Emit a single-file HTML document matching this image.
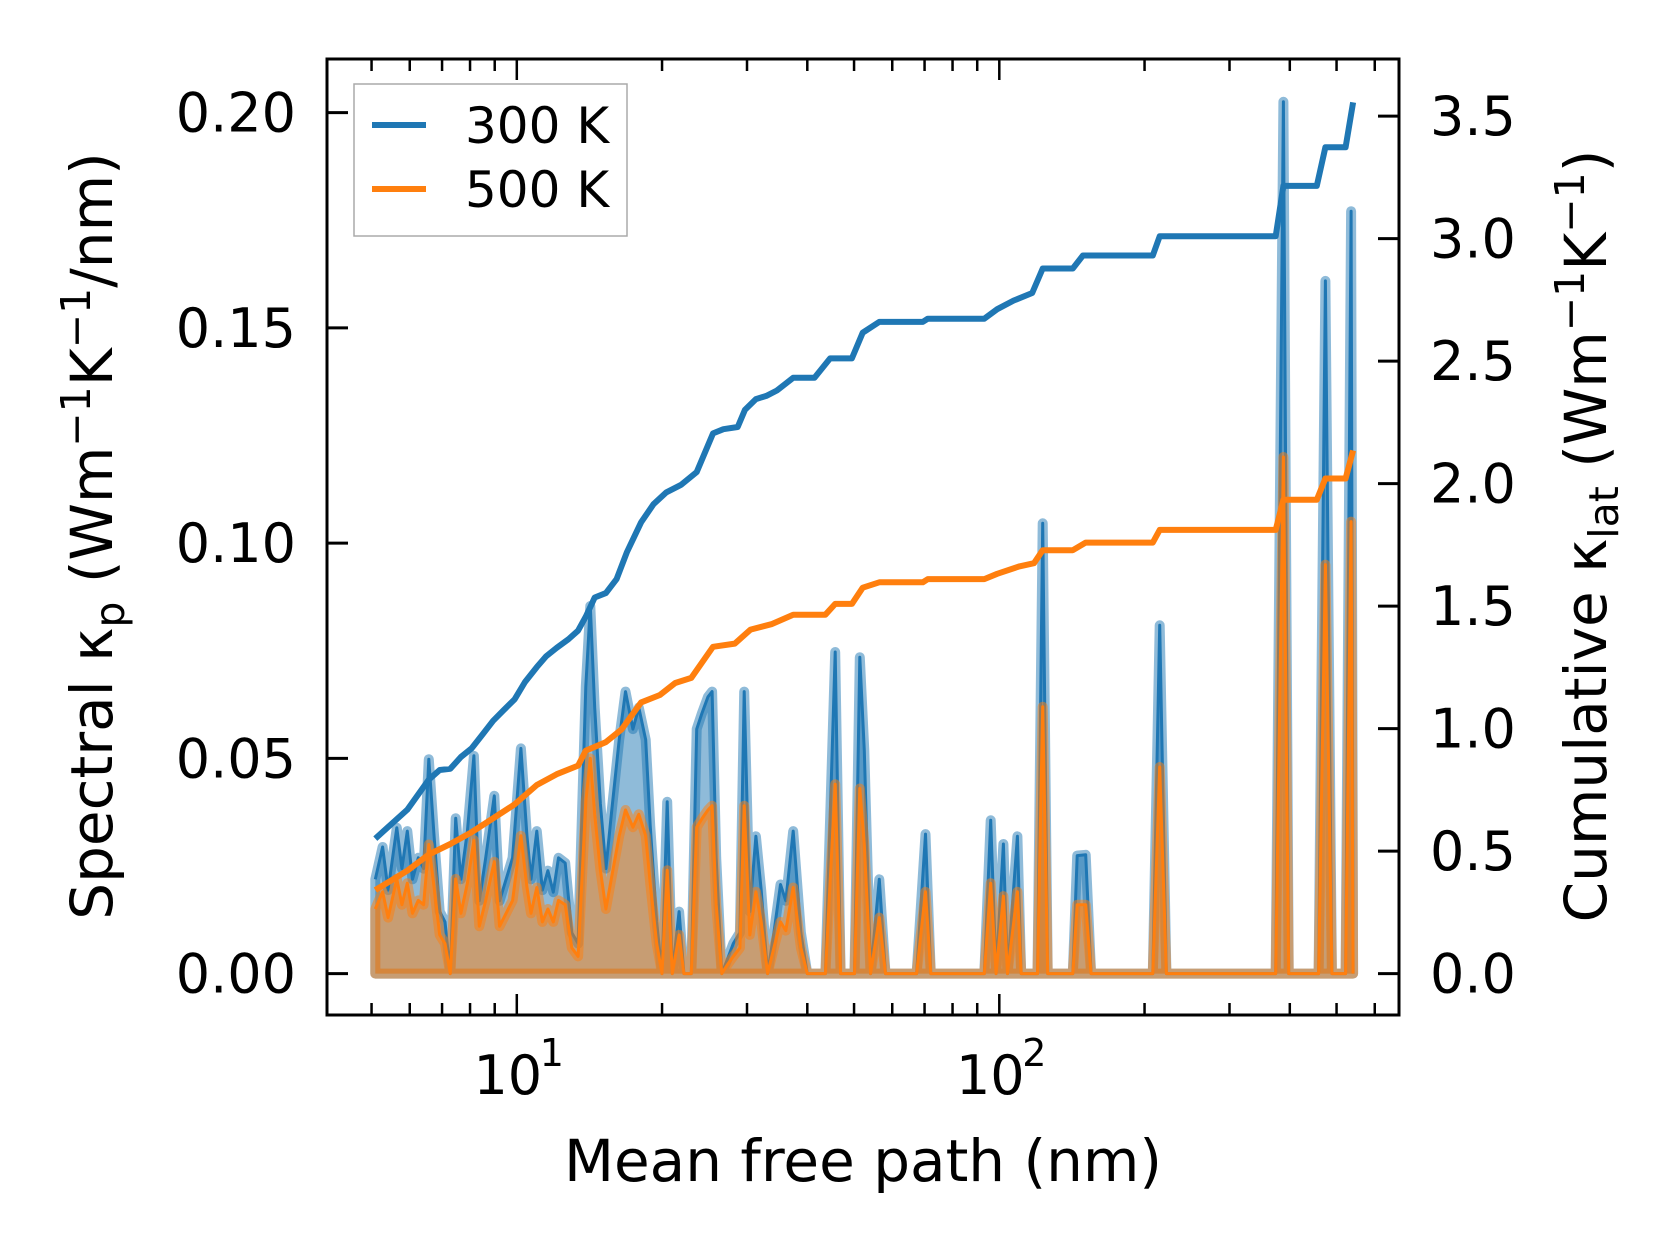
<!DOCTYPE html>
<html><head><meta charset="utf-8"><style>
html,body{margin:0;padding:0;background:#fff}
svg{display:block}
text{font-family:"DejaVu Sans","Liberation Sans",sans-serif;fill:#000}
</style></head><body>
<svg id="chart" width="1679" height="1254" viewBox="0 0 1679 1254" xmlns="http://www.w3.org/2000/svg"></svg>
<script>
const specX = [5.09,5.27,5.41,5.64,5.78,5.93,6.08,6.25,6.41,6.57,6.74,6.92,7.10,7.28,7.47,7.66,7.90,8.15,8.36,8.62,8.98,9.21,9.50,9.80,10.2,10.5,10.7,11.0,11.3,11.6,11.9,12.2,12.6,13.0,13.4,13.9,14.2,14.5,14.9,15.3,15.7,16.3,16.8,17.4,17.9,18.5,18.9,19.5,20.0,20.5,21.0,21.7,22.2,23.0,23.6,24.2,24.9,25.4,25.9,26.6,27.3,28.1,29.0,29.6,30.4,31.3,32.1,33.1,34.1,35.2,36.1,37.4,38.8,40.0,43.6,45.7,46.9,50.1,51.4,52.5,54.1,56.4,58.1,67.4,70.3,72.1,93.1,96.0,98.5,102,104,109,111,120,123,126,142,145,151,155,208,215,222,374,388,398,459,474,489,522,536,541];
const spec300 = [0.0219,0.0294,0.0194,0.0339,0.0244,0.0331,0.0219,0.0269,0.0244,0.0498,0.0319,0.0144,0.0120,0,0.0361,0.0219,0.0331,0.0506,0.0169,0.0269,0.0413,0.0169,0.0219,0.0269,0.0523,0.0319,0.0219,0.0331,0.0194,0.0239,0.0189,0.0269,0.0257,0.0095,0.0070,0.0667,0.0854,0.0618,0.0394,0.0244,0.0369,0.0543,0.0655,0.0568,0.0618,0.0543,0.0344,0.0120,0,0.0399,0,0.0144,0,0,0.0568,0.0605,0.0643,0.0655,0.0269,0,0.0032,0.0070,0.0095,0.0655,0.0144,0.0319,0.0194,0,0.0095,0.0207,0.0169,0.0331,0.0095,0,0,0.0747,0,0,0.0735,0.0518,0,0.0219,0,0,0.0324,0,0,0.0356,0,0.0301,0,0.0319,0,0,0.1046,0,0,0.0274,0.0276,0,0,0.0809,0,0,0.2025,0,0,0.1609,0,0,0.1771,0];
const spec500 = [0.0150,0.0190,0.0130,0.0220,0.0160,0.0210,0.0140,0.0170,0.0160,0.0300,0.0200,0.0090,0.0070,0,0.0220,0.0140,0.0210,0.0310,0.0110,0.0170,0.0260,0.0110,0.0140,0.0170,0.0320,0.0200,0.0140,0.0200,0.0120,0.0150,0.0120,0.0170,0.0160,0.0060,0.0040,0.0400,0.0500,0.0370,0.0240,0.0150,0.0220,0.0320,0.0380,0.0340,0.0370,0.0320,0.0210,0.0070,0,0.0240,0,0.0090,0,0,0.0340,0.0360,0.0380,0.0390,0.0160,0,0.0020,0.0040,0.0060,0.0390,0.0090,0.0190,0.0120,0,0.0060,0.0120,0.0100,0.0200,0.0060,0,0,0.0440,0,0,0.0430,0.0300,0,0.0130,0,0,0.0190,0,0,0.0210,0,0.0180,0,0.0190,0,0,0.0620,0,0,0.0160,0.0160,0,0,0.0480,0,0,0.1200,0,0,0.0950,0,0,0.1050,0];
const cum300X = [5.09,5.93,6.57,6.92,7.28,7.66,8.06,8.49,8.93,9.40,9.90,10.4,11.0,11.5,12.1,12.8,13.4,13.9,14.5,15.3,16.1,16.9,18.1,19.2,20.4,21.9,23.6,25.5,26.8,28.7,29.7,31.3,32.9,34.6,37.4,41.4,44.6,49.5,52.1,56.4,69.4,71.1,93.1,99.0,107,117,123,142,149,208,215,374,388,455,474,522,541];
const cum300 = [0.551,0.669,0.792,0.831,0.836,0.884,0.919,0.976,1.032,1.076,1.120,1.190,1.251,1.295,1.330,1.365,1.400,1.457,1.535,1.553,1.610,1.719,1.842,1.916,1.964,1.995,2.047,2.205,2.222,2.231,2.301,2.345,2.358,2.380,2.432,2.432,2.511,2.511,2.616,2.660,2.660,2.673,2.673,2.712,2.747,2.778,2.878,2.878,2.931,2.931,3.010,3.010,3.215,3.215,3.373,3.373,3.556];
const cum500X = [5.09,5.93,6.57,7.28,8.06,8.93,9.90,11.0,12.1,13.4,13.9,15.3,16.5,18.1,19.8,21.3,23.0,25.5,28.3,30.5,33.7,37.4,43.6,45.7,49.5,52.1,56.4,69.4,71.1,93.1,99.0,110,118,123,142,151,208,215,374,388,455,474,522,541];
const cum500 = [0.341,0.420,0.486,0.529,0.577,0.634,0.691,0.770,0.814,0.849,0.910,0.945,0.997,1.107,1.137,1.186,1.207,1.334,1.347,1.404,1.426,1.465,1.465,1.509,1.509,1.575,1.597,1.597,1.610,1.610,1.632,1.662,1.675,1.728,1.728,1.759,1.759,1.811,1.811,1.934,1.934,2.021,2.021,2.135];
const leftTicks = [0,0.05,0.10,0.15,0.20];
const leftTickLabels = ["0.00","0.05","0.10","0.15","0.20"];
const rightTicks = [0,0.5,1,1.5,2,2.5,3,3.5];
const rightTickLabels = ["0.0","0.5","1.0","1.5","2.0","2.5","3.0","3.5"];
const xMajor = [10,100];
const xMajorExp = ["1","2"];

const L=327,R=1399,T=59,B=1015;
const X0=516.8, DEC=482.5;
const sx = v => X0 + (Math.log10(v)-1)*DEC;
const syL = v => 973.6 - v/0.05*215.25;
const syR = v => 973.6 - v/0.5*122.5;
const svg = document.getElementById('chart');
const NS='http://www.w3.org/2000/svg';
function mk(tag, attrs, parent){const e=document.createElementNS(NS,tag);for(const k in attrs)e.setAttribute(k,attrs[k]);(parent||svg).appendChild(e);return e;}

const clip = mk('clipPath',{id:'plotclip'}); mk('rect',{x:L,y:T,width:R-L,height:B-T},clip);
const plot = mk('g',{'clip-path':'url(#plotclip)'});



function spectral(vals, color, name){
  const pts = specX.map((x,i)=>sx(x).toFixed(1)+','+syL(vals[i]).toFixed(1));
  const area = 'M'+sx(specX[0]).toFixed(1)+','+syL(0)+' L'+pts.join(' L')+' L'+sx(specX[specX.length-1]).toFixed(1)+','+syL(0)+' Z';
  const f = mk('path',{d:area,fill:color,'fill-opacity':0.5,stroke:color,'stroke-opacity':0.5,'stroke-width':10,'stroke-linejoin':'round'},plot);
  
  
  const l = mk('polyline',{points:pts.join(' '),fill:'none',stroke:color,'stroke-width':3,'stroke-linejoin':'round'},plot);
  
  
}
spectral(spec300,'#1f77b4','spectral-300k');
spectral(spec500,'#ff7f0e','spectral-500k');

function cum(xs, vals, color, name){
  const pts = xs.map((x,i)=>sx(x).toFixed(1)+','+syR(vals[i]).toFixed(1));
  const l = mk('polyline',{points:pts.join(' '),fill:'none',stroke:color,'stroke-width':6,'stroke-linejoin':'round'},plot);
  
  
}
cum(cum300X,cum300,'#1f77b4','cumulative-300k');
cum(cum500X,cum500,'#ff7f0e','cumulative-500k');

const frame = mk('rect',{x:L,y:T,width:R-L,height:B-T,fill:'none',stroke:'#000','stroke-width':3});



leftTicks.forEach((v,i)=>{
  const y=syL(v);
  const t=mk('line',{x1:L,x2:L+21,y1:y,y2:y,stroke:'#000','stroke-width':3});
  
  
  const tx=mk('text',{x:296,y:y+19,'font-size':54,'text-anchor':'end'});
  tx.textContent=leftTickLabels[i];
  
  
});
rightTicks.forEach((v,i)=>{
  const y=syR(v);
  const t=mk('line',{x1:R-21,x2:R,y1:y,y2:y,stroke:'#000','stroke-width':3});
  
  
  const tx=mk('text',{x:1430,y:y+19,'font-size':54});
  tx.textContent=rightTickLabels[i];
  
  
});
for(let d=1;d<=1000;d*=10){
  for(let m=1;m<10;m++){
    const v=d*m; const x=sx(v);
    if(x<L+1||x>R-1) continue;
    const len = m===1?21:12;
    const b=mk('line',{x1:x,x2:x,y1:B,y2:B-len,stroke:'#000','stroke-width':2.5});
    
    
    const t=mk('line',{x1:x,x2:x,y1:T,y2:T+len,stroke:'#000','stroke-width':2.5});
    
    
  }
}
xMajor.forEach((v,i)=>{
  const x=sx(v);
  const tx=mk('text',{x:x-9,y:1094,'font-size':54,'text-anchor':'middle'});
  tx.textContent='10';
  
  
  const sup=mk('text',{x:x+23,y:1066,'font-size':38});
  sup.textContent=xMajorExp[i];
  
  
});

const xt=mk('text',{x:863,y:1181,'font-size':58,'text-anchor':'middle'});
xt.textContent='Mean free path (nm)';



const yl=mk('text',{transform:'translate(112,536) rotate(-90)','font-size':58,'text-anchor':'middle'});
yl.innerHTML='Spectral κ<tspan font-size="41" dy="12">p</tspan><tspan dy="-12"> (Wm</tspan><tspan font-size="41" dy="-22">−1</tspan><tspan dy="22">K</tspan><tspan font-size="41" dy="-22">−1</tspan><tspan dy="22">/nm)</tspan>';



const yr=mk('text',{transform:'translate(1606,536) rotate(-90)','font-size':58,'text-anchor':'middle'});
yr.innerHTML='Cumulative κ<tspan font-size="41" dy="12">lat</tspan><tspan dy="-12"> (Wm</tspan><tspan font-size="41" dy="-22">−1</tspan><tspan dy="22">K</tspan><tspan font-size="41" dy="-22">−1</tspan><tspan dy="22">)</tspan>';



const lg=mk('g',{});


mk('rect',{x:354,y:84,width:273,height:152,fill:'#fff','fill-opacity':0.8,stroke:'#aaa','stroke-width':1.5},lg);
[['300 K','#1f77b4',125],['500 K','#ff7f0e',189]].forEach(e=>{
  const g=mk('g',{},lg);
  
  
  mk('line',{x1:372,x2:426,y1:e[2],y2:e[2],stroke:e[1],'stroke-width':6},g);
  const t=mk('text',{x:465,y:e[2]+18,'font-size':50},g);
  t.textContent=e[0];
});
</script>
</body></html>
